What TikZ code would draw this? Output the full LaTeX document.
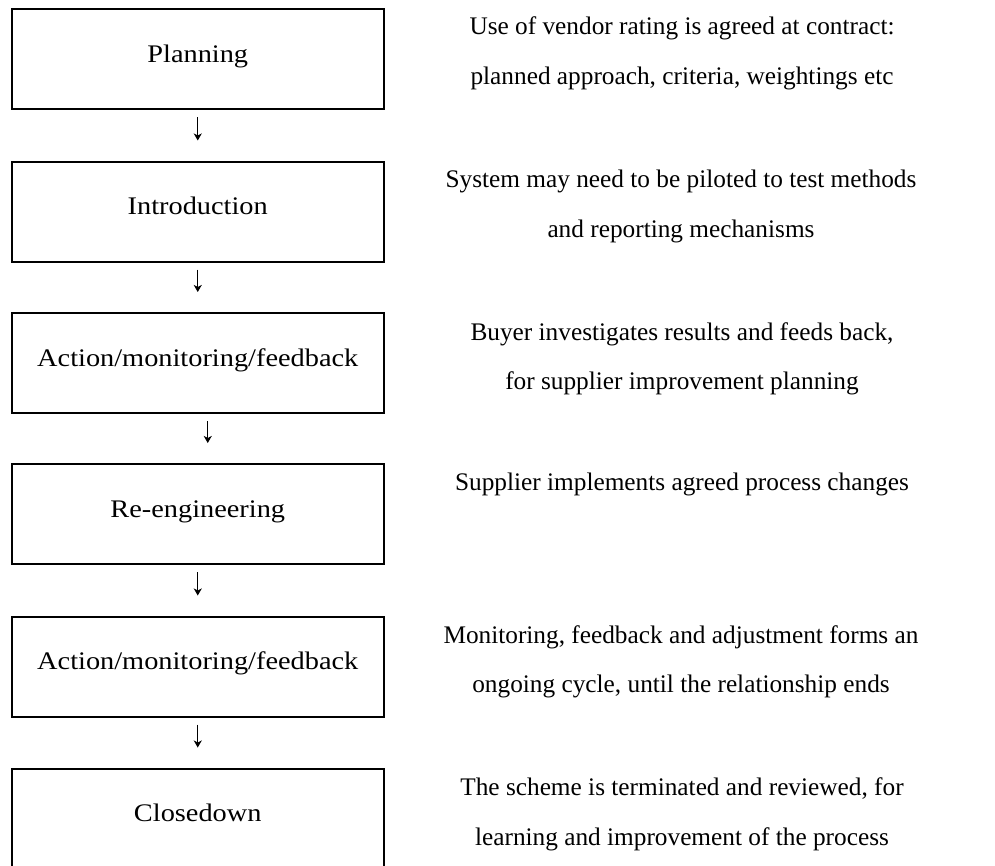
\documentclass[tikz,border=0pt]{standalone}
\usepackage{fontspec}
\setmainfont{Liberation Serif}
\newfontfamily\boxfont[FakeStretch=1.12]{Liberation Serif}
\usetikzlibrary{arrows.meta}
\tikzset{
  stage/.style={draw=black, line width=2pt, minimum width=372.5pt, minimum height=100pt,
    inner sep=0pt, text height=18pt, text depth=12pt,
    font=\boxfont\fontsize{25.3}{30}\selectfont},
  note/.style={anchor=base, align=center, inner sep=0pt,
    font=\fontsize{25.3}{49.5}\selectfont},
  flow/.style={line width=1pt, -{Stealth[length=7pt,width=8pt,inset=2pt]},
    shorten <=7pt, shorten >=20pt}
}
\begin{document}
\begin{tikzpicture}[x=1pt,y=-1pt]
\useasboundingbox (0,0) rectangle (995,865);
\node[stage] (b1) at (197.75,59.3) {Planning};
\node[stage] (b2) at (197.75,211.5) {Introduction};
\node[stage] (b3) at (197.75,363) {Action/monitoring/feedback};
\node[stage] (b4) at (197.75,514) {Re-engineering};
\node[stage] (b5) at (197.75,666.5) {Action/monitoring/feedback};
\node[stage] (b6) at (197.75,818.5) {Closedown};

\draw[flow] (b1.south) -- (b2.north);
\draw[flow] (b2.south) -- (b3.north);
\draw[flow] ([xshift=10pt]b3.south) -- ([xshift=10pt]b4.north);
\draw[flow] (b4.south) -- (b5.north);
\draw[flow] (b5.south) -- (b6.north);

% anchor=base is the baseline of the last line
\node[note] (t1) at (682,84) {Use of vendor rating is agreed at contract:\\planned approach, criteria, weightings etc};
\node[note] (t2) at (681,237) {System may need to be piloted to test methods\\and reporting mechanisms};
\node[note] (t3) at (682,389.5) {Buyer investigates results and feeds back,\\for supplier improvement planning};
\node[note] (t4) at (682,490) {Supplier implements agreed process changes};
\node[note] (t5) at (681,692.5) {Monitoring, feedback and adjustment forms an\\ongoing cycle, until the relationship ends};
\node[note] (t6) at (682,845) {The scheme is terminated and reviewed, for\\learning and improvement of the process};
\end{tikzpicture}
\end{document}
